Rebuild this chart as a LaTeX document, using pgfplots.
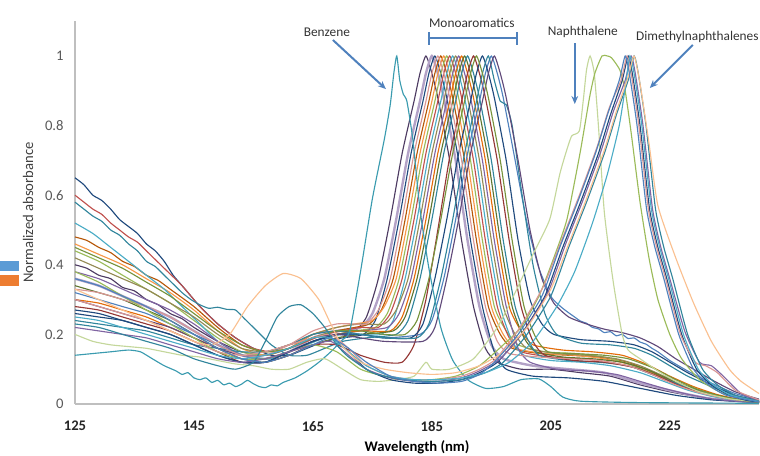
\documentclass[border=0pt]{standalone}
\usepackage{fontspec}
\setmainfont{Carlito}
\usepackage{pgfplots}
\pgfplotsset{compat=1.18}
\usetikzlibrary{arrows.meta}

\definecolor{cA}{HTML}{1F497D}
\definecolor{cB}{HTML}{4D3B62}
\definecolor{cC}{HTML}{B3A2C7}
\definecolor{cD}{HTML}{B65708}
\definecolor{cE}{HTML}{F79646}
\definecolor{cF}{HTML}{9BBB59}
\definecolor{cG}{HTML}{C0504D}
\definecolor{cH}{HTML}{4BACC6}
\definecolor{cI}{HTML}{948A54}
\definecolor{cJ}{HTML}{8064A2}
\definecolor{cK}{HTML}{E46C0A}
\definecolor{cL}{HTML}{5F7530}
\definecolor{cM}{HTML}{31859C}
\definecolor{cN}{HTML}{953735}
\definecolor{cO}{HTML}{4F81BD}
\definecolor{cP}{HTML}{60497A}
\definecolor{cQ}{HTML}{D99694}
\definecolor{cR}{HTML}{77933C}
\definecolor{cS}{HTML}{C4D79B}
\definecolor{cT}{HTML}{FAC090}
\definecolor{cU}{HTML}{3A9BAF}
\definecolor{arrowblue}{HTML}{4F81BD}
\definecolor{legblue}{HTML}{5B9BD5}
\definecolor{legorange}{HTML}{ED7D31}

\begin{document}
\begin{tikzpicture}
\useasboundingbox (-56.25pt,-39pt) rectangle (513.75pt,303pt);
\begin{axis}[
  at={(0pt,0pt)}, anchor=south west,
  scale only axis, width=513pt, height=287.1pt,
  xmin=125, xmax=240, ymin=0, ymax=1.1,
  clip=false,
  axis x line*=bottom, axis y line*=left,
  axis line style={draw=black!25, line width=0.8pt, -},
  major tick length=0pt,
  xtick={125,145,165,185,205,225},
  xticklabels={125,145,165,185,205,225},
  ytick={0,0.2,0.4,0.6,0.8,1},
  yticklabels={0,0.2,0.4,0.6,0.8,1},
  xticklabel style={font=\fontsize{11}{13}\selectfont\bfseries, text=black!85, yshift=-9.5pt},
  yticklabel style={font=\fontsize{11}{13}\selectfont, text=black!65, xshift=-5pt},
  xlabel={Wavelength (nm)},
  ylabel={Normalized absorbance},
  xlabel style={at={(axis description cs:0.5,-0.112)}, anchor=center, font=\fontsize{11}{13}\selectfont\bfseries},
  ylabel style={at={(axis description cs:-0.0687,0.5)}, anchor=center, font=\fontsize{11}{13}\selectfont, text=black!75},
  every axis plot/.append style={no marks, line width=0.85pt, smooth, tension=0.35},
]

% ---------- monoaromatics ----------
\addplot[cB] coordinates {(125,0.40)(127,0.39)(129,0.37)(131,0.36)(133,0.335)(135,0.325)(137,0.30)(139,0.285)(141,0.26)(143,0.245)(145,0.22)(149,0.18)(153,0.15)(157,0.14)(161,0.16)(165,0.2)(169,0.21)(172,0.21)(174,0.25)(176,0.36)(178,0.53)(180,0.72)(182,0.87)(183,0.95)(184,1)(185,0.95)(186,0.88)(188,0.7)(190,0.47)(192,0.28)(194,0.16)(196,0.12)(200,0.1)(205,0.1)(210,0.09)(215,0.08)(220,0.055)(225,0.035)(230,0.02)(235,0.01)(240,0.005)};
\addplot[cC, line width=1.8pt] coordinates {(125,0.36)(129,0.34)(133,0.31)(137,0.28)(141,0.25)(145,0.21)(149,0.17)(153,0.14)(157,0.13)(161,0.15)(165,0.19)(169,0.21)(173,0.22)(175,0.26)(177,0.36)(179,0.53)(181,0.72)(183,0.87)(184,0.95)(185,1)(186,0.95)(187,0.88)(189,0.7)(191,0.47)(193,0.28)(195,0.17)(197,0.13)(202,0.11)(208,0.1)(214,0.09)(220,0.06)(226,0.035)(232,0.015)(240,0.005)};
\addplot[cA] coordinates {(125,0.65)(126.5,0.63)(128,0.60)(129.5,0.585)(131,0.56)(132.5,0.53)(134,0.51)(135.5,0.49)(137,0.46)(138.5,0.44)(140,0.41)(141.5,0.37)(143,0.34)(144.5,0.31)(146,0.28)(149,0.23)(152,0.19)(155,0.16)(158,0.14)(161,0.14)(164,0.16)(167,0.18)(170,0.19)(173.5,0.2)(175.5,0.24)(177.5,0.36)(179.5,0.53)(181.5,0.72)(183.5,0.87)(184.5,0.95)(185.5,1)(186.5,0.95)(187.5,0.88)(189.5,0.7)(191.5,0.47)(193.5,0.28)(195.5,0.15)(197.5,0.1)(202,0.08)(208,0.075)(214,0.065)(220,0.045)(226,0.025)(232,0.012)(240,0.004)};
\addplot[cD] coordinates {(125,0.48)(127,0.47)(129,0.45)(131,0.435)(133,0.41)(135,0.395)(137,0.37)(139,0.355)(141,0.33)(145,0.28)(149,0.22)(153,0.17)(157,0.15)(161,0.17)(165,0.19)(169,0.21)(172,0.22)(174.5,0.23)(176.5,0.27)(178.5,0.36)(180.5,0.53)(182.5,0.72)(184.5,0.87)(185.5,0.95)(186.5,1)(187.5,0.95)(188.5,0.88)(190.5,0.7)(192.5,0.47)(194.5,0.28)(196.5,0.2)(198.5,0.16)(203,0.145)(208,0.14)(213,0.135)(218,0.12)(222,0.09)(226,0.06)(230,0.035)(235,0.015)(240,0.006)};
\addplot[cE] coordinates {(125,0.46)(129,0.43)(133,0.40)(137,0.36)(141,0.32)(145,0.27)(149,0.21)(153,0.16)(157,0.14)(161,0.16)(165,0.2)(169,0.22)(172,0.23)(175,0.24)(177,0.28)(179,0.36)(181,0.53)(183,0.72)(185,0.87)(186,0.95)(187,1)(188,0.95)(189,0.88)(191,0.7)(193,0.47)(195,0.28)(197,0.2)(199,0.16)(204,0.145)(209,0.14)(214,0.13)(219,0.11)(223,0.08)(227,0.05)(231,0.03)(236,0.012)(240,0.006)};
\addplot[cF] coordinates {(125,0.44)(129,0.41)(133,0.37)(137,0.33)(141,0.29)(145,0.24)(149,0.19)(153,0.15)(157,0.14)(161,0.16)(165,0.19)(169,0.2)(172,0.21)(175.5,0.22)(177.5,0.26)(179.5,0.36)(181.5,0.53)(183.5,0.72)(185.5,0.87)(186.5,0.95)(187.5,1)(188.5,0.95)(189.5,0.88)(191.5,0.7)(193.5,0.47)(195.5,0.28)(197.5,0.21)(199.5,0.17)(204,0.15)(209,0.145)(214,0.135)(219,0.11)(223,0.08)(227,0.05)(231,0.028)(236,0.012)(240,0.006)};
\addplot[cG] coordinates {(125,0.60)(126.5,0.58)(128,0.56)(129.5,0.545)(131,0.52)(132.5,0.50)(134,0.48)(135.5,0.465)(137,0.44)(140,0.39)(143,0.34)(146,0.28)(149,0.23)(152,0.19)(155,0.16)(158,0.15)(161,0.16)(164,0.18)(167,0.2)(170,0.21)(173,0.22)(176,0.22)(178,0.26)(180,0.36)(182,0.53)(184,0.72)(186,0.87)(187,0.95)(188,1)(189,0.95)(190,0.88)(192,0.7)(194,0.47)(196,0.28)(198,0.19)(200,0.15)(205,0.135)(210,0.13)(215,0.12)(220,0.1)(224,0.07)(228,0.045)(232,0.025)(236,0.012)(240,0.005)};
\addplot[cH] coordinates {(125,0.52)(128,0.49)(131,0.45)(134,0.41)(137,0.37)(140,0.33)(143,0.28)(146,0.23)(149,0.18)(152,0.15)(155,0.13)(158,0.13)(161,0.15)(164,0.17)(167,0.19)(170,0.2)(173,0.2)(176.5,0.2)(178.5,0.24)(180.5,0.36)(182.5,0.53)(184.5,0.72)(186.5,0.87)(187.5,0.95)(188.5,1)(189.5,0.95)(190.5,0.88)(192.5,0.7)(194.5,0.47)(196.5,0.28)(198.5,0.18)(200.5,0.14)(205,0.125)(210,0.12)(215,0.11)(220,0.09)(224,0.065)(228,0.04)(232,0.022)(236,0.01)(240,0.005)};
\addplot[cI] coordinates {(125,0.42)(129,0.39)(133,0.36)(137,0.33)(141,0.29)(145,0.25)(149,0.2)(153,0.16)(157,0.15)(161,0.17)(165,0.2)(169,0.22)(173,0.23)(177,0.23)(179,0.27)(181,0.36)(183,0.53)(185,0.72)(187,0.87)(188,0.95)(189,1)(190,0.95)(191,0.88)(193,0.7)(195,0.47)(197,0.28)(199,0.2)(201,0.16)(206,0.145)(211,0.14)(216,0.13)(220,0.11)(224,0.08)(228,0.05)(232,0.028)(236,0.013)(240,0.006)};
\addplot[cJ] coordinates {(125,0.38)(129,0.36)(133,0.33)(137,0.30)(141,0.27)(145,0.23)(149,0.18)(153,0.14)(157,0.13)(161,0.15)(165,0.18)(169,0.2)(173,0.21)(177.5,0.22)(179.5,0.26)(181.5,0.36)(183.5,0.53)(185.5,0.72)(187.5,0.87)(188.5,0.95)(189.5,1)(190.5,0.95)(191.5,0.88)(193.5,0.7)(195.5,0.47)(197.5,0.28)(199.5,0.16)(201.5,0.12)(206,0.1)(211,0.095)(216,0.085)(220,0.065)(224,0.045)(228,0.028)(232,0.015)(236,0.008)(240,0.004)};
\addplot[cK] coordinates {(125,0.30)(129,0.29)(133,0.27)(137,0.25)(141,0.22)(145,0.19)(149,0.16)(153,0.13)(157,0.13)(161,0.15)(165,0.18)(169,0.2)(173,0.21)(178,0.21)(180,0.25)(182,0.36)(184,0.53)(186,0.72)(188,0.87)(189,0.95)(190,1)(191,0.95)(192,0.88)(194,0.7)(196,0.47)(198,0.28)(200,0.21)(202,0.17)(207,0.155)(212,0.15)(217,0.14)(221,0.115)(225,0.08)(229,0.05)(233,0.027)(237,0.012)(240,0.006)};
\addplot[cL] coordinates {(125,0.34)(129,0.32)(133,0.3)(137,0.27)(141,0.24)(145,0.2)(149,0.16)(153,0.13)(157,0.12)(161,0.14)(165,0.17)(169,0.19)(173,0.2)(178.5,0.21)(180.5,0.25)(182.5,0.36)(184.5,0.53)(186.5,0.72)(188.5,0.87)(189.5,0.95)(190.5,1)(191.5,0.95)(192.5,0.88)(194.5,0.7)(196.5,0.47)(198.5,0.28)(200.5,0.19)(202.5,0.15)(207,0.135)(212,0.13)(217,0.12)(221,0.1)(225,0.07)(229,0.045)(233,0.025)(237,0.011)(240,0.005)};
\addplot[cM] coordinates {(125,0.58)(126.5,0.56)(128,0.54)(129.5,0.525)(131,0.5)(132.5,0.485)(134,0.46)(135.5,0.44)(137,0.41)(138.5,0.395)(140,0.37)(141.5,0.345)(143,0.32)(144.5,0.3)(146,0.285)(147.5,0.275)(149,0.278)(150.5,0.272)(152,0.27)(153.5,0.245)(155,0.22)(158,0.17)(161,0.14)(164,0.14)(167,0.16)(170,0.18)(174,0.19)(179,0.2)(181,0.24)(183,0.36)(185,0.53)(187,0.72)(189,0.87)(190,0.95)(191,1)(192,0.95)(193,0.88)(195,0.7)(197,0.47)(199,0.28)(201,0.19)(203,0.14)(208,0.125)(213,0.12)(218,0.11)(222,0.085)(226,0.06)(230,0.035)(234,0.018)(238,0.008)(240,0.005)};
\addplot[cN] coordinates {(125,0.28)(129,0.27)(133,0.25)(137,0.23)(141,0.21)(145,0.18)(149,0.15)(153,0.12)(157,0.12)(161,0.14)(165,0.17)(169,0.17)(173,0.14)(177,0.12)(180,0.12)(182,0.17)(184,0.3)(186,0.5)(188,0.71)(190,0.87)(191,0.95)(192,1)(193,0.95)(194,0.88)(196,0.7)(198,0.47)(200,0.28)(202,0.18)(204,0.14)(209,0.125)(214,0.12)(219,0.105)(223,0.08)(227,0.05)(231,0.03)(235,0.015)(240,0.005)};
\addplot[cO] coordinates {(125,0.32)(129,0.3)(133,0.28)(137,0.26)(141,0.23)(145,0.2)(149,0.17)(153,0.14)(157,0.13)(161,0.15)(165,0.18)(169,0.2)(173,0.2)(177,0.19)(183,0.2)(185,0.24)(187,0.36)(189,0.53)(191,0.72)(193,0.87)(194,0.95)(195,1)(196,0.95)(197,0.88)(199,0.7)(201,0.52)(203,0.39)(205,0.31)(206,0.29)(207,0.275)(208,0.262)(209,0.25)(210,0.238)(211,0.232)(212,0.22)(213,0.216)(214,0.205)(215,0.208)(216,0.196)(217,0.2)(218,0.188)(219,0.19)(220,0.178)(221,0.172)(222,0.16)(223,0.15)(225,0.125)(228,0.095)(232,0.06)(236,0.03)(240,0.012)};
\addplot[cA] coordinates {(125,0.26)(129,0.25)(133,0.24)(137,0.22)(141,0.2)(145,0.17)(149,0.14)(153,0.12)(157,0.12)(161,0.15)(165,0.18)(169,0.2)(173,0.2)(177,0.19)(181.5,0.19)(183.5,0.23)(185.5,0.36)(187.5,0.53)(189.5,0.72)(191.5,0.87)(192.5,0.95)(193.5,1)(194.5,0.95)(195.5,0.88)(197.5,0.7)(199.5,0.47)(201.5,0.3)(203.5,0.23)(205.5,0.2)(210,0.185)(215,0.18)(219,0.17)(222,0.15)(225,0.12)(228,0.09)(232,0.055)(236,0.025)(240,0.01)};
\addplot[cM] coordinates {(125,0.24)(129,0.23)(133,0.22)(137,0.21)(141,0.19)(145,0.17)(149,0.16)(153,0.15)(157,0.15)(161,0.17)(165,0.2)(169,0.21)(173,0.2)(177,0.19)(182.5,0.19)(184.5,0.23)(186.5,0.36)(188.5,0.53)(190.5,0.72)(192.5,0.87)(193.5,0.95)(194.5,1)(195.5,0.93)(196.5,0.87)(197.5,0.86)(198.5,0.8)(200,0.62)(202,0.4)(204,0.26)(206,0.2)(210,0.175)(215,0.17)(219,0.16)(222,0.14)(225,0.11)(228,0.08)(232,0.05)(236,0.022)(240,0.009)};
\addplot[cP] coordinates {(125,0.30)(129,0.28)(133,0.26)(137,0.24)(141,0.22)(145,0.19)(149,0.16)(153,0.14)(157,0.14)(161,0.16)(165,0.19)(169,0.2)(173,0.19)(177,0.18)(183.5,0.18)(185.5,0.22)(187.5,0.36)(189.5,0.53)(191.5,0.72)(193.5,0.87)(194.5,0.95)(195.5,1)(196.5,0.95)(197.5,0.88)(199.5,0.7)(201.5,0.5)(203.5,0.36)(205.5,0.29)(208,0.25)(211,0.23)(214,0.215)(217,0.205)(220,0.19)(223,0.165)(226,0.13)(229,0.1)(232,0.07)(236,0.035)(240,0.014)};
\addplot[cQ] coordinates {(125,0.33)(129,0.32)(133,0.3)(137,0.28)(141,0.25)(145,0.21)(149,0.17)(153,0.14)(157,0.14)(161,0.17)(165,0.21)(169,0.23)(172,0.23)(174,0.23)(176,0.27)(178,0.36)(180,0.53)(182,0.72)(184,0.87)(185,0.95)(186,1)(187,0.95)(188,0.88)(190,0.7)(192,0.47)(194,0.28)(196,0.18)(198,0.145)(203,0.135)(208,0.13)(213,0.125)(218,0.11)(222,0.085)(226,0.055)(230,0.032)(235,0.014)(240,0.006)};
\addplot[cR] coordinates {(125,0.45)(129,0.42)(133,0.39)(137,0.35)(141,0.31)(145,0.26)(149,0.21)(153,0.17)(157,0.15)(161,0.16)(165,0.19)(169,0.21)(173,0.21)(177,0.2)(180.5,0.2)(182.5,0.24)(184.5,0.36)(186.5,0.53)(188.5,0.72)(190.5,0.87)(191.5,0.95)(192.5,1)(193.5,0.95)(194.5,0.88)(196.5,0.7)(198.5,0.47)(200.5,0.28)(202.5,0.19)(204.5,0.15)(209,0.145)(214,0.14)(218,0.13)(222,0.105)(226,0.07)(230,0.04)(234,0.02)(238,0.009)(240,0.006)};

% ---------- benzene ----------
\addplot[cU] coordinates {(125,0.14)(128,0.145)(131,0.15)(134,0.155)(136,0.15)(138,0.13)(140,0.11)(142,0.095)(143,0.085)(144,0.09)(145,0.075)(146,0.07)(147,0.075)(148,0.062)(149,0.068)(150,0.055)(151,0.06)(152,0.05)(153,0.057)(154,0.068)(155,0.058)(156,0.05)(157,0.047)(158,0.055)(159,0.052)(160,0.062)(162,0.075)(164,0.095)(166,0.12)(168,0.15)(170,0.185)(171.2,0.21)(173,0.38)(175,0.59)(177,0.76)(178,0.86)(178.6,0.95)(179.1,1)(179.6,0.93)(180.2,0.89)(180.8,0.87)(181.8,0.76)(183,0.56)(184.5,0.39)(186.5,0.22)(188.5,0.126)(191,0.07)(194,0.045)(197,0.05)(200,0.07)(203,0.072)(205,0.05)(207,0.02)(210,0.008)(220,0.004)(240,0.002)};

% ---------- naphthalene and dimethylnaphthalenes ----------
\addplot[cS] coordinates {(125,0.2)(128,0.18)(131,0.17)(134,0.165)(137,0.16)(140,0.15)(143,0.14)(146,0.135)(149,0.125)(152,0.115)(155,0.11)(158,0.1)(161,0.1)(164,0.12)(167,0.13)(170,0.1)(173,0.07)(176,0.065)(179,0.07)(182,0.08)(184,0.12)(185,0.1)(188,0.1)(192,0.13)(196,0.22)(199,0.32)(202,0.43)(204.8,0.53)(206.5,0.66)(207.5,0.72)(208.5,0.77)(209.8,0.785)(210.5,0.88)(211,0.96)(211.6,1)(212.3,0.95)(213,0.8)(214,0.55)(215.5,0.35)(217,0.2)(218,0.155)(220,0.13)(223,0.095)(226,0.065)(230,0.035)(235,0.015)(240,0.006)};
\addplot[cF] coordinates {(125,0.38)(129,0.35)(133,0.31)(137,0.27)(141,0.23)(145,0.19)(149,0.15)(153,0.13)(157,0.13)(161,0.15)(165,0.17)(169,0.15)(173,0.1)(177,0.08)(181,0.07)(185,0.07)(189,0.08)(193,0.11)(197,0.17)(200,0.22)(203,0.31)(205.5,0.42)(207.7,0.53)(209.9,0.72)(211.5,0.88)(212.4,0.95)(213.6,1)(214.5,1)(215.2,0.995)(216.6,0.96)(217.5,0.9)(218.5,0.78)(220,0.58)(221.5,0.42)(223,0.3)(225,0.2)(227,0.13)(230,0.07)(234,0.03)(240,0.008)};
\addplot[cA] coordinates {(125,0.27)(129,0.26)(133,0.24)(137,0.22)(141,0.2)(145,0.17)(149,0.14)(153,0.12)(157,0.12)(161,0.15)(165,0.18)(168,0.19)(171,0.15)(174,0.1)(178,0.07)(182,0.06)(186,0.06)(190,0.07)(193,0.09)(196,0.12)(200,0.2)(204,0.31)(207,0.45)(210,0.58)(213,0.72)(215,0.83)(217,0.93)(218,1)(218.7,0.95)(220,0.8)(221.6,0.56)(223,0.45)(224.5,0.36)(227,0.2)(229.5,0.1)(232,0.055)(235,0.025)(238,0.01)(240,0.006)};
\addplot[cJ] coordinates {(125,0.22)(129,0.21)(133,0.2)(137,0.19)(141,0.17)(145,0.15)(149,0.13)(153,0.12)(157,0.13)(161,0.15)(165,0.17)(168,0.18)(171,0.14)(174,0.1)(178,0.075)(182,0.065)(186,0.065)(190,0.075)(193,0.095)(196.5,0.13)(200.5,0.21)(204.5,0.32)(207.5,0.46)(210.5,0.59)(213.5,0.73)(215.5,0.84)(217.5,0.93)(218.5,1)(219.2,0.95)(220.5,0.8)(222.1,0.56)(223.5,0.45)(225,0.36)(227.5,0.21)(230,0.12)(232,0.11)(234,0.08)(237,0.03)(240,0.01)};
\addplot[cQ] coordinates {(125,0.30)(129,0.28)(133,0.26)(137,0.24)(141,0.21)(145,0.18)(149,0.15)(153,0.14)(157,0.15)(161,0.17)(165,0.19)(168,0.2)(171,0.16)(174,0.11)(178,0.08)(182,0.07)(186,0.07)(190,0.08)(193,0.1)(195.8,0.13)(199.8,0.22)(203.8,0.34)(206.8,0.47)(209.8,0.6)(212.8,0.74)(214.8,0.85)(216.8,0.93)(217.8,1)(218.5,0.95)(219.8,0.8)(221.4,0.56)(222.8,0.45)(224.3,0.36)(226.8,0.2)(229.3,0.12)(231,0.11)(233,0.09)(236,0.04)(240,0.012)};
\addplot[cM] coordinates {(125,0.23)(129,0.22)(133,0.2)(137,0.18)(141,0.16)(145,0.13)(149,0.11)(152,0.1)(155,0.12)(157,0.18)(159,0.25)(161,0.28)(163,0.285)(165,0.26)(167,0.22)(169,0.17)(171,0.135)(175,0.09)(180,0.07)(185,0.065)(190,0.07)(194,0.09)(197,0.12)(201,0.2)(205,0.31)(208,0.45)(211,0.58)(214,0.72)(216,0.83)(218,0.93)(219,1)(219.7,0.95)(221,0.8)(222.6,0.56)(224,0.45)(225.5,0.36)(228,0.2)(230.5,0.1)(233,0.055)(236,0.025)(240,0.008)};
\addplot[cH] coordinates {(125,0.25)(129,0.24)(133,0.22)(137,0.2)(141,0.18)(145,0.16)(149,0.14)(153,0.13)(157,0.14)(161,0.16)(165,0.19)(168,0.19)(171,0.15)(174,0.11)(178,0.08)(182,0.07)(186,0.07)(190,0.075)(194,0.09)(198,0.12)(202,0.18)(206,0.28)(209,0.38)(212,0.52)(214.5,0.66)(216.5,0.8)(217.6,0.92)(218.3,1)(219,0.95)(220.3,0.8)(221.9,0.56)(223.3,0.45)(224.8,0.36)(227.3,0.2)(229.8,0.1)(232.3,0.055)(235.3,0.025)(240,0.007)};
\addplot[cT] coordinates {(125,0.33)(129,0.3)(133,0.27)(137,0.24)(141,0.21)(145,0.18)(148,0.17)(151,0.2)(154,0.28)(157,0.34)(160,0.375)(163,0.36)(166,0.3)(168,0.23)(170,0.165)(173,0.12)(177,0.1)(181,0.09)(185,0.085)(189,0.09)(193,0.11)(197,0.15)(201,0.22)(205,0.33)(208,0.46)(211,0.59)(214,0.73)(216,0.84)(218,0.94)(219,1)(220,0.92)(221.5,0.75)(223,0.57)(226,0.42)(229,0.29)(232,0.18)(235,0.1)(237,0.065)(240,0.03)};
\addplot[cO] coordinates {(125,0.36)(129,0.34)(133,0.31)(137,0.28)(141,0.24)(145,0.2)(149,0.16)(153,0.13)(157,0.12)(161,0.14)(165,0.17)(168,0.19)(171,0.16)(174,0.12)(178,0.08)(182,0.065)(186,0.06)(190,0.065)(193,0.085)(195.5,0.12)(199.5,0.2)(203.5,0.31)(206.5,0.45)(209.5,0.58)(212.5,0.72)(214.5,0.83)(216.5,0.93)(217.5,1)(218.2,0.95)(219.5,0.8)(221.1,0.56)(222.5,0.45)(224,0.36)(226.5,0.2)(229,0.1)(231.5,0.055)(234.5,0.025)(240,0.006)};

% ---------- annotations ----------
\node[font=\fontsize{10}{12}\selectfont, text=black!80] at (axis cs:167.35,1.069) {Benzene};
\draw[arrowblue, line width=1.5pt, -{Stealth[length=6pt,width=5pt]}] (axis cs:168.36,1.046) -- (axis cs:177.27,0.905);
\node[font=\fontsize{10}{12}\selectfont, text=black!80] at (axis cs:191.72,1.095) {Monoaromatics};
\draw[arrowblue, line width=1.5pt] (axis cs:184.5,1.052) -- (axis cs:199.3,1.052);
\draw[arrowblue, line width=1.5pt] (axis cs:184.5,1.032) -- (axis cs:184.5,1.068);
\draw[arrowblue, line width=1.5pt] (axis cs:199.3,1.032) -- (axis cs:199.3,1.068);
\node[font=\fontsize{10}{12}\selectfont, text=black!80] at (axis cs:210.38,1.069) {Naphthalene};
\draw[arrowblue, line width=1.5pt, -{Stealth[length=6pt,width=5pt]}] (axis cs:209.03,1.037) -- (axis cs:209.03,0.862);
\node[font=\fontsize{10}{12}\selectfont, text=black!80, anchor=west, inner sep=0pt] at (axis cs:219.29,1.055) {Dimethylnaphthalenes};
\draw[arrowblue, line width=1.5pt, -{Stealth[length=6pt,width=5pt]}] (axis cs:228.87,1.032) -- (axis cs:221.64,0.908);
\end{axis}

% fragments of a legend at the left edge
\fill[legblue] (-56.25pt,99.75pt) rectangle (-42pt,107.25pt);
\fill[legorange] (-56.25pt,88.5pt) rectangle (-42pt,96.75pt);
\end{tikzpicture}
\end{document}
